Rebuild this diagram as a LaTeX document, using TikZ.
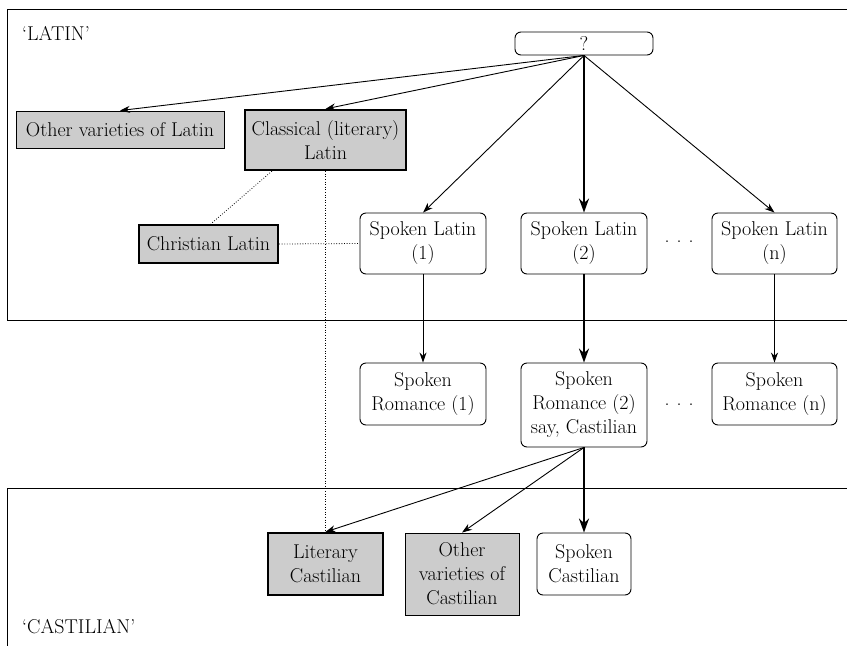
\documentclass[tikz,border=0pt]{standalone}
\usetikzlibrary{arrows.meta}
\definecolor{boxgray}{RGB}{204,204,204}
\tikzset{
  every node/.style={font=\fontsize{20}{24}\selectfont, inner sep=0pt, align=center},
  roundbox/.style={draw, line width=0.9pt, rounded corners=6pt},
  graybox/.style={draw, fill=boxgray, line width=0.9pt},
  thickgray/.style={draw, fill=boxgray, line width=2.2pt},
  arr/.style={line width=0.9pt, -{Stealth[length=10pt,width=7pt]}},
  thickarr/.style={line width=2.2pt, -{Stealth[length=14pt,width=10pt]}},
  dotline/.style={line width=0.8pt, dash pattern=on 0.8pt off 1.8pt},
  region/.style={line width=1pt}
}
\begin{document}
\begin{tikzpicture}[x=1pt,y=-1pt]
\useasboundingbox (0,0) rectangle (847,646);
% regions
\draw[region] (847,9) -- (7,9) -- (7,320) -- (847,320);
\draw[region] (847,488) -- (7,488) -- (7,646);
\node[anchor=base west] (latinlbl) at (22,40) {`LATIN'};
\node[anchor=base west] (castlbl) at (22,633) {`CASTILIAN'};
% nodes
\node[roundbox, minimum width=138pt, minimum height=23pt] (q) at (584,43.5) {?};
\node[graybox, minimum width=208pt, minimum height=37pt] (ovl) at (120,129.5) {Other varieties of Latin};
\node[thickgray, minimum width=161pt, minimum height=60pt] (cl) at (325.5,140) {Classical (literary)\\Latin};
\node[thickgray, minimum width=139pt, minimum height=38pt] (chr) at (208.5,244) {Christian Latin};
\node[roundbox, minimum width=126pt, minimum height=61pt] (sl1) at (423,243.5) {Spoken Latin\\(1)};
\node[roundbox, minimum width=126pt, minimum height=61pt] (sl2) at (584,243.5) {Spoken Latin\\(2)};
\node[roundbox, minimum width=125pt, minimum height=61pt] (sln) at (774.5,243.5) {Spoken Latin\\(n)};
\node (dots1) at (679,242) {.\hspace{7pt}.\hspace{7pt}.};
\node[roundbox, minimum width=126pt, minimum height=62pt] (sr1) at (423,394) {Spoken\\Romance (1)};
\node[roundbox, minimum width=126pt, minimum height=84pt] (sr2) at (584,405) {Spoken\\Romance (2)\\say, Castilian};
\node[roundbox, minimum width=125pt, minimum height=62pt] (srn) at (774.5,394) {Spoken\\Romance (n)};
\node (dots2) at (679,405) {.\hspace{7pt}.\hspace{7pt}.};
\node[thickgray, minimum width=115pt, minimum height=62pt] (lc) at (325.5,564) {Literary\\Castilian};
\node[graybox, minimum width=114pt, minimum height=82pt] (ovc) at (462,574) {Other\\varieties of\\Castilian};
\node[roundbox, minimum width=94pt, minimum height=62pt] (sc) at (584,564) {Spoken\\Castilian};
% connectors
\draw[arr] (q.south) -- (ovl.north);
\draw[arr] (q.south) -- (cl.north);
\draw[arr] (q.south) -- (sl1.north);
\draw[thickarr] (q.south) -- (sl2.north);
\draw[arr] (q.south) -- (sln.north);
\draw[arr] (sl1.south) -- (sr1.north);
\draw[thickarr] (sl2.south) -- (sr2.north);
\draw[arr] (sln.south) -- (srn.north);
\draw[arr] (sr2.south) -- (lc.north);
\draw[arr] (sr2.south) -- (ovc.north);
\draw[thickarr] (sr2.south) -- (sc.north);
% dotted relations
\draw[dotline] ([xshift=28pt]cl.south west) -- ([xshift=73pt]chr.north west);
\draw[dotline] (cl.south) -- (lc.north);
\draw[dotline] (chr.east) -- (sl1.west);
\end{tikzpicture}
\end{document}
